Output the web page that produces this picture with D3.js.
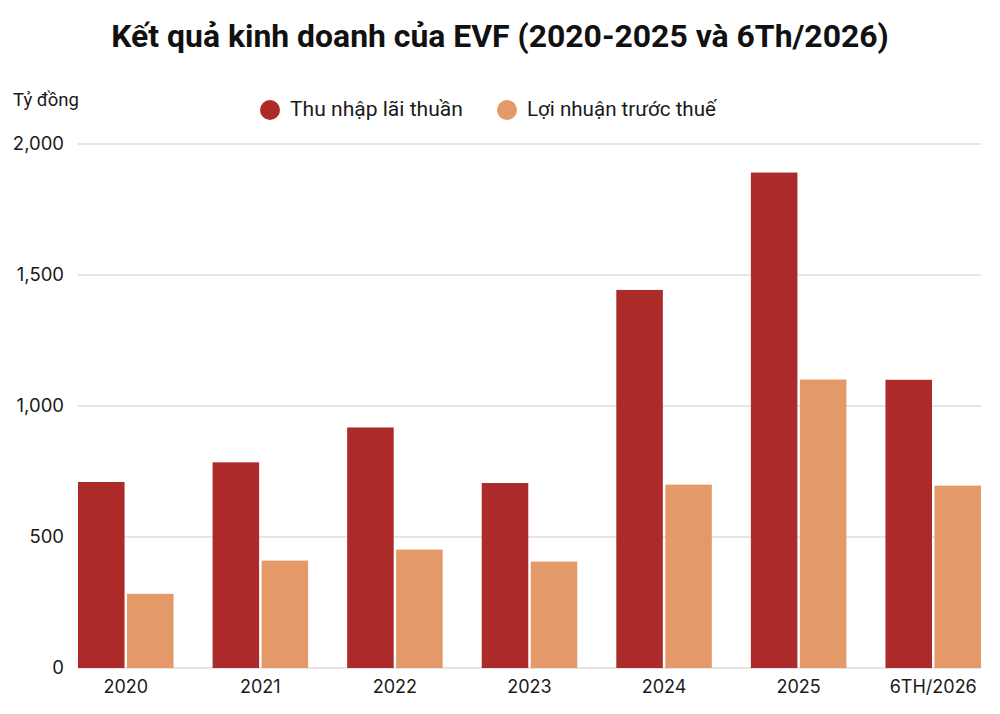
<!DOCTYPE html>
<html><head><meta charset="utf-8">
<script src="https://cdn.jsdelivr.net/npm/d3@7"></script>
<style>body{margin:0;background:#fff;}svg{display:block;}</style>
</head><body>
<svg id="c" width="1000" height="714"></svg>
<script>
const title = "Kết quả kinh doanh của EVF (2020-2025 và 6Th/2026)";
const unitLabel = "Tỷ đồng";
const categories = ["2020","2021","2022","2023","2024","2025","6TH/2026"];
const seriesNames = ["Thu nhập lãi thuần","Lợi nhuận trước thuế"];
const netInterestIncome = [710, 785, 918, 706, 1443, 1891, 1100];
const profitBeforeTax = [283, 410, 452, 406, 700, 1101, 696];
const yTicks = [0, 500, 1000, 1500, 2000];
const colors = ["#ad2a2b", "#e49a68"];

const svg = d3.select("#c");
const m = {left: 78, right: 19, top: 144, bottom: 46};
const W = 1000, H = 714;

const x0 = d3.scaleBand().domain(categories).range([m.left, W - m.right]).paddingInner(0.29).paddingOuter(0);
const x1 = d3.scaleBand().domain(seriesNames).range([0, x0.bandwidth()]).paddingInner(0.05);
const y = d3.scaleLinear().domain([0, 2000]).range([H - m.bottom, m.top]);

// gridlines
svg.append("g").selectAll("line").data(yTicks).join("line")
  .attr("x1", m.left).attr("x2", W - m.right)
  .attr("y1", d => y(d)).attr("y2", d => y(d))
  .attr("stroke", "#dcdcdc").attr("stroke-width", 1.5);

// y tick labels
const yAxis = d3.axisLeft(y).tickValues(yTicks).tickFormat(d3.format(",")).tickSize(0).tickPadding(0);
const ya = svg.append("g").attr("transform", `translate(${m.left - 14},0)`).call(yAxis);
ya.select(".domain").remove();
ya.selectAll("text").attr("font-family", "Inter, sans-serif").attr("font-size", 18.5).attr("fill", "#1a1a1a");

// bars
const rows = categories.map((c, i) => ({cat: c, vals: [netInterestIncome[i], profitBeforeTax[i]]}));
const g = svg.append("g").selectAll("g").data(rows).join("g")
  .attr("transform", d => `translate(${x0(d.cat)},0)`);
g.selectAll("rect").data(d => d.vals.map((v, j) => ({s: seriesNames[j], v, j}))).join("rect")
  .attr("x", d => x1(d.s)).attr("width", x1.bandwidth())
  .attr("y", d => y(d.v)).attr("height", d => y(0) - y(d.v))
  .attr("fill", d => colors[d.j]);

// x axis labels
const xAxis = d3.axisBottom(x0).tickSize(0).tickPadding(12);
const xa = svg.append("g").attr("transform", `translate(0,${H - m.bottom})`).call(xAxis);
xa.select(".domain").remove();
xa.selectAll("text").attr("font-family", "Inter, sans-serif").attr("font-size", 18).attr("fill", "#1a1a1a");

// title
const t = svg.append("text").attr("x", 500).attr("y", 47).attr("text-anchor", "middle")
  .attr("font-family", "Roboto, sans-serif").attr("font-weight", 700).attr("font-size", 27)
  .attr("fill", "#111").text(title);
const tw = t.node().getComputedTextLength();
t.attr("font-size", 27 * 778 / tw);

// unit label
svg.append("text").attr("x", 13).attr("y", 106).attr("font-family", "Roboto, sans-serif")
  .attr("font-size", 18.5).attr("fill", "#1a1a1a").text(unitLabel);

// legend
const legendX = [270, 507];
const legendW = [173, 189];
const lg = svg.append("g").selectAll("g").data(seriesNames).join("g")
  .attr("transform", (d, i) => `translate(${legendX[i]},110)`);
lg.append("circle").attr("r", 10).attr("fill", (d, i) => colors[i]);
lg.append("text").attr("x", 20).attr("y", 6).attr("font-family", "Roboto, sans-serif")
  .attr("font-size", 19).attr("fill", "#1a1a1a").text(d => d)
  .each(function(d, i) {
    const w = this.getComputedTextLength();
    d3.select(this).attr("font-size", 19 * legendW[i] / w);
  });
</script>
</body></html>
